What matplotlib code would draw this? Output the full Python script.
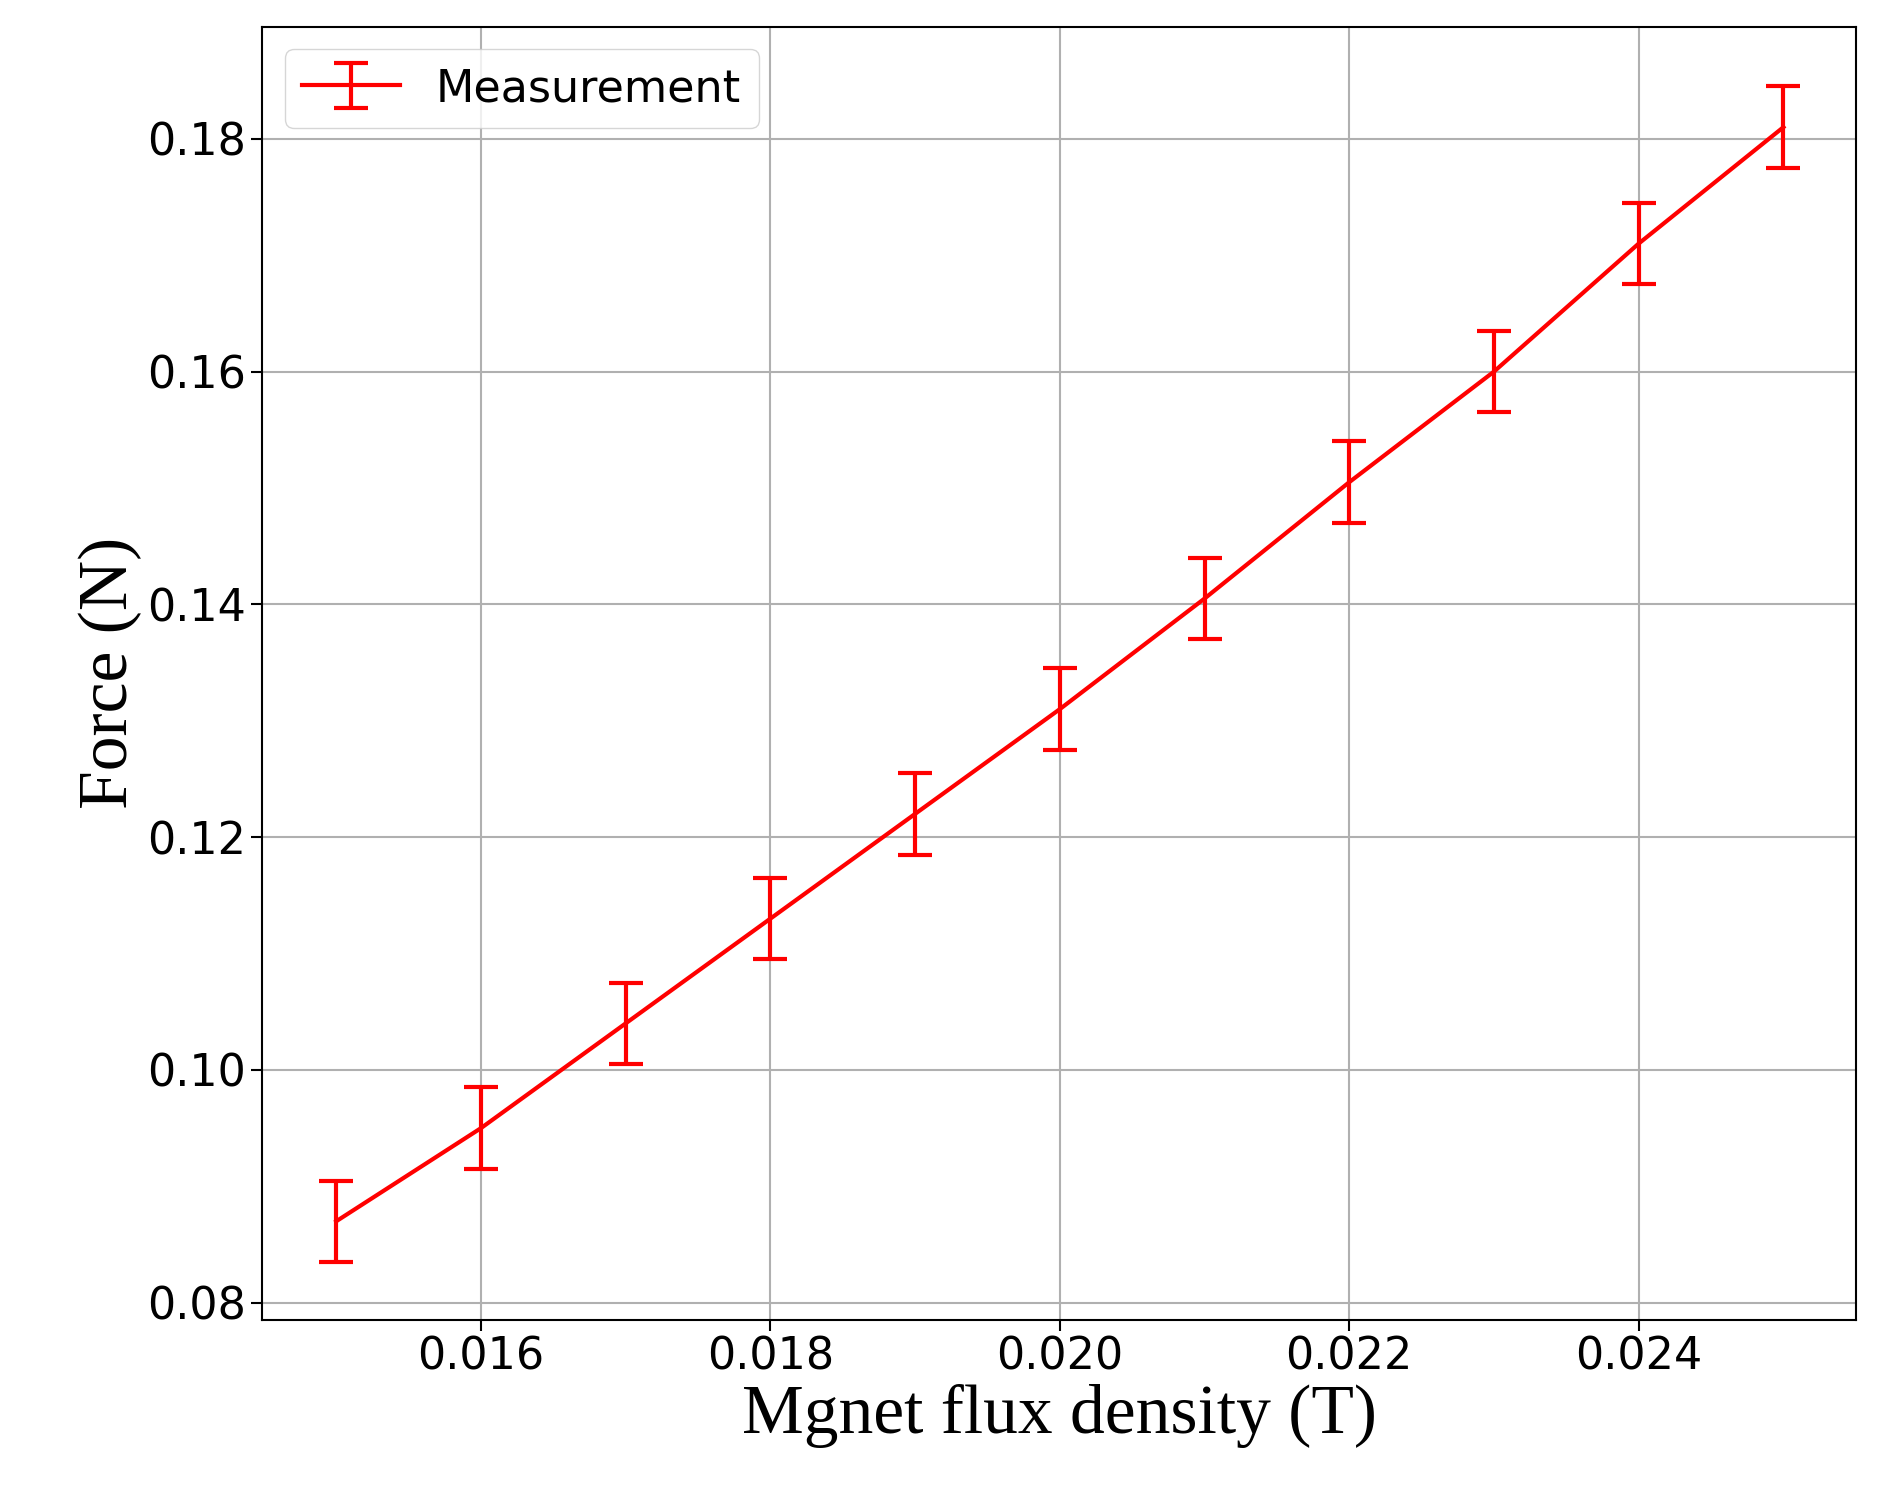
import matplotlib
matplotlib.use("Agg")
import matplotlib.pyplot as plt

flux = [0.015, 0.016, 0.017, 0.018, 0.019, 0.020, 0.021, 0.022, 0.023, 0.024, 0.025]
force = [0.087, 0.095, 0.104, 0.113, 0.122, 0.131, 0.1405, 0.1505, 0.160, 0.171, 0.181]
err = [0.0035] * 11
xticks = [0.016, 0.018, 0.020, 0.022, 0.024]
yticks = [0.08, 0.10, 0.12, 0.14, 0.16, 0.18]

fig = plt.figure(figsize=(18.81, 15.03), dpi=100)
ax = fig.add_axes([0.1395, 0.122, 0.8471, 0.86])
ax.errorbar(flux, force, yerr=err, color='red', lw=3, elinewidth=3, capsize=12, capthick=3, label='Measurement')
ax.set_xlim(0.01449, 0.0255)
ax.set_ylim(0.07855, 0.1896)
ax.set_xticks(xticks)
ax.set_xticklabels([f"{v:.3f}" for v in xticks])
ax.set_yticks(yticks)
ax.set_yticklabels([f"{v:.2f}" for v in yticks])
ax.tick_params(labelsize=32, length=8, width=1.5)
ax.grid(True, color='#b0b0b0', lw=1.5)
for s in ax.spines.values():
    s.set_linewidth(1.5)
ax.set_xlabel('Mgnet flux density (T)', family='Liberation Serif', fontsize=50)
ax.set_ylabel('Force (N)', family='Liberation Serif', fontsize=50)
ax.legend(loc='upper left', fontsize=32, handlelength=2.2)
fig.savefig('out.png', dpi=100)
